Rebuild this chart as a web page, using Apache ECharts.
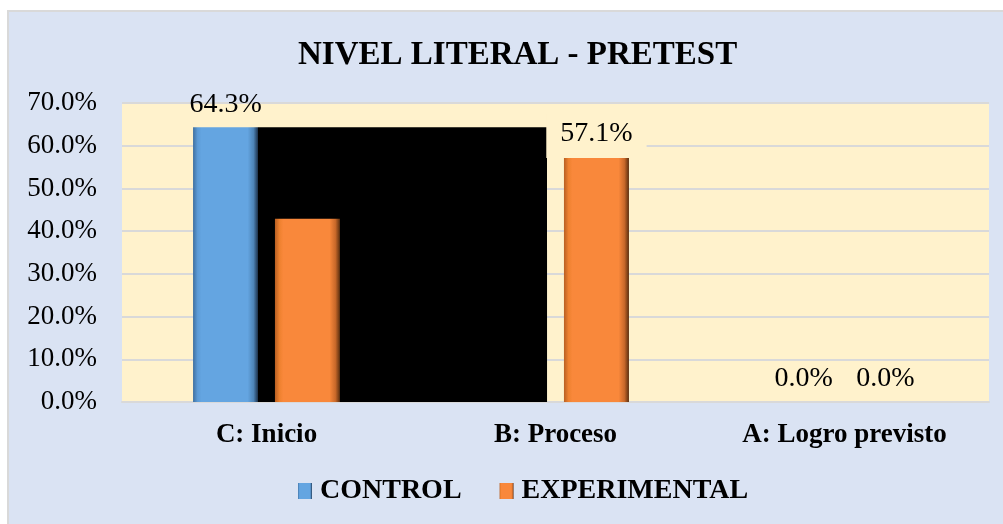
<!DOCTYPE html>
<html>
<head>
<meta charset="utf-8">
<script src="https://cdn.jsdelivr.net/npm/echarts@6/dist/echarts.min.js"></script>
<style>
    body{margin:0;background:#fff;}
    #frame{position:absolute;left:7px;top:10px;right:0;bottom:0;background:#DAE3F3;border-left:2px solid #D9D9D9;border-top:2px solid #D9D9D9;}
    #main{position:absolute;left:0;top:0;width:1003px;height:524px;}
</style>
</head>
<body>
<div id="frame"></div>
<div id="main"></div>
<script>
// datos del grafico
var categorias = ['C: Inicio', 'B: Proceso', 'A: Logro previsto'];
var control = [64.3, 35.7, 0.0];
var experimental = [42.9, 57.1, 0.0];
var ticksY = [0, 10, 20, 30, 40, 50, 60, 70];

var serif = '"Liberation Serif", "Times New Roman", serif';

function bisel(c1, c2, c3, c4, c5){
    return new echarts.graphic.LinearGradient(0, 0, 1, 0, [
        {offset: 0, color: c1},
        {offset: 0.07, color: c2},
        {offset: 0.13, color: c3},
        {offset: 0.84, color: c3},
        {offset: 0.93, color: c4},
        {offset: 1, color: c5}
    ]);
}

var myChart = echarts.init(document.getElementById('main'));

// la etiqueta de control en B queda tapada en el original
var ctrlData = control.map(function(v, i){
    if (i === 1) {
        return {value: v, label: {show: false}};
    }
    return v;
});

var expData = experimental.map(function(v, i){
    // etiqueta de B con fondo (como en el original)
    if (i === 1) {
        return {value: v, label: {backgroundColor: '#FFF2CC', padding: [6, 14, 10, 14], distance: 0}};
    }
    return v;
});

option = {
    animation: false,
    title: {
        text: 'NIVEL LITERAL - PRETEST',
        left: 293,
        top: 34,
        textStyle: {fontFamily: serif, fontSize: 33, fontWeight: 'bold', color: '#000'}
    },
    legend: {
        data: ['CONTROL', 'EXPERIMENTAL'],
        bottom: 14,
        left: 293,
        itemWidth: 14,
        itemHeight: 16,
        itemGap: 38,
        icon: 'rect',
        textStyle: {fontFamily: serif, fontSize: 28, fontWeight: 'bold', color: '#000', padding: [0, 0, 0, 3]}
    },
    grid: {
        left: 122,
        top: 103,
        width: 867,
        height: 299,
        show: true,
        backgroundColor: '#FFF2CC',
        borderWidth: 0
    },
    xAxis: {
        type: 'category',
        data: categorias,
        axisTick: {show: false},
        axisLine: {lineStyle: {color: '#D9D9D9', width: 2}},
        axisLabel: {fontFamily: serif, fontSize: 27, fontWeight: 'bold', color: '#000', margin: 20}
    },
    yAxis: {
        type: 'value',
        min: ticksY[0],
        max: ticksY[ticksY.length - 1],
        interval: 10,
        axisLine: {show: false},
        axisTick: {show: false},
        splitLine: {lineStyle: {color: '#D9D9D9', width: 2}},
        axisLabel: {
            fontFamily: serif, fontSize: 27, color: '#000', margin: 25,
            formatter: function(v){ return v.toFixed(1) + '%'; }
        }
    },
    series: [
        {
            name: 'CONTROL',
            type: 'bar',
            z: 1,
            barWidth: 65,
            barGap: '26%',
            data: ctrlData,
            itemStyle: {color: bisel('#3F70A0', '#5C9BD6', '#64A5E1', '#4E85B8', '#1C3049')},
            label: {
                show: true, position: 'top', distance: 9,
                fontFamily: serif, fontSize: 28, color: '#000',
                formatter: function(p){ return p.value.toFixed(1) + '%'; }
            }
        },
        {
            // zona negra del original
            type: 'custom',
            z: 2,
            silent: true,
            data: [[0, 1, control[0]]],
            renderItem: function(params, api){
                var a = api.coord([api.value(0), api.value(2)]);
                var b = api.coord([api.value(1), 0]);
                var g = 8.5;
                return {
                    type: 'rect',
                    shape: {x: a[0] - g, y: a[1], width: b[0] - a[0], height: b[1] - a[1]},
                    style: {fill: '#000'}
                };
            }
        },
        {
            name: 'EXPERIMENTAL',
            type: 'bar',
            z: 3,
            barWidth: 65,
            barGap: '26%',
            data: expData,
            itemStyle: {color: bisel('#B85F22', '#EE812F', '#F9883B', '#C9692A', '#5A2E0F')},
            label: {
                show: true, position: 'top', distance: 9,
                fontFamily: serif, fontSize: 28, color: '#000',
                formatter: function(p){ return p.value.toFixed(1) + '%'; }
            }
        }
    ]
};

myChart.setOption(option);
</script>
</body>
</html>
